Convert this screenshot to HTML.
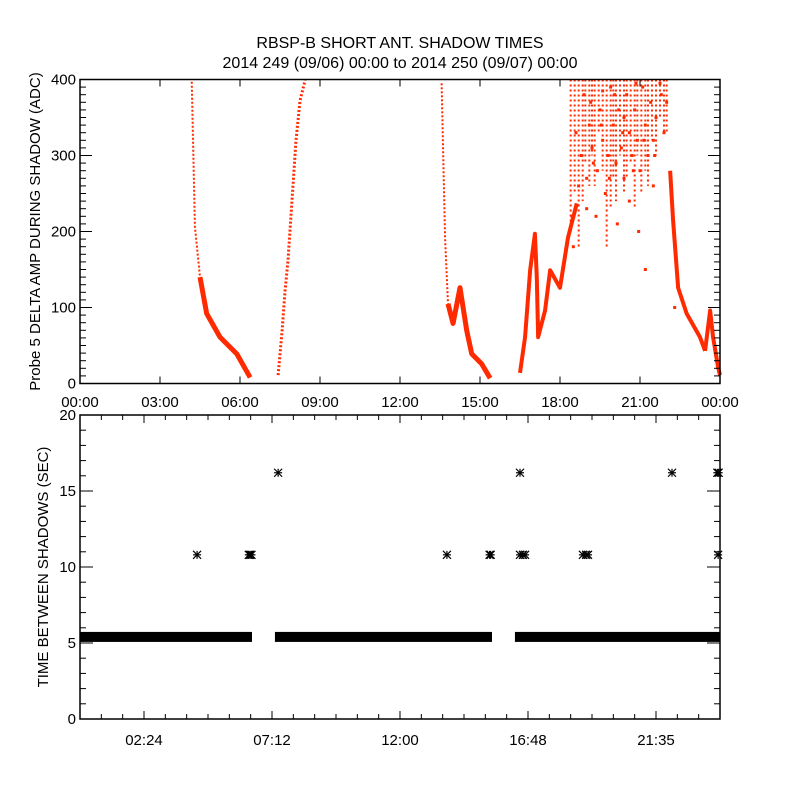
<!DOCTYPE html>
<html><head><meta charset="utf-8"><style>
html,body{margin:0;padding:0;background:#fff;}
svg{display:block;}
text{font-family:"Liberation Sans",sans-serif;fill:#000;}
</style></head><body>
<svg id="chart" width="800" height="800" viewBox="0 0 800 800">
<text x="400" y="48" font-size="16" text-anchor="middle">RBSP-B SHORT ANT. SHADOW TIMES</text>
<text x="400" y="68" font-size="16" text-anchor="middle">2014 249 (09/06) 00:00 to 2014 250 (09/07) 00:00</text>
<g id="topPanel"></g>
<g id="botPanel"></g>
</svg>
<script>
// ---- Top panel data (hours, ADC) ----
const ampThin1 = [[4.19,397],[4.31,206],[4.5,140]];
const ampThick1 = [[4.5,140],[4.75,92],[5.25,61],[5.88,39],[6.38,8]];
const ampRise2 = [[7.43,11],[7.58,70],[7.69,122],[7.8,162],[7.95,241],[8.1,320],[8.25,372],[8.44,399]];
const ampThin3 = [[13.56,395],[13.69,192],[13.8,105]];
const ampThick3 = [[13.8,105],[13.99,79],[14.25,126],[14.5,70],[14.69,39],[15.06,26],[15.38,7]];
const ampRise4 = [[16.5,14],[16.69,61],[16.88,149],[17.06,197],[17.13,139],[17.18,61],[17.44,96],[17.63,149],[18.0,126],[18.3,192],[18.63,237]];
const ampFall5 = [[22.13,280],[22.24,215],[22.43,126],[22.75,92],[23.25,61],[23.44,43]];
const ampTail6 = [[23.44,43],[23.63,96],[23.74,61],[23.93,21],[24.0,11]];
const streakHours = [18.4,18.55,18.7,18.85,18.95,19.1,19.2,19.3,19.45,19.6,19.75,19.9,20.0,20.1,20.25,20.4,20.5,20.65,20.8,20.9,21.05,21.2,21.3,21.45,21.6,21.75,21.9,22.0];
const streakLows = [200,250,180,240,290,260,300,260,330,280,180,230,270,240,300,250,270,290,230,300,250,280,260,320,300,350,330,330];
const cloudDots = [[18.6,330],[18.8,300],[18.9,380],[19.0,270],[19.1,340],[19.2,310],[19.4,280],[19.5,360],[19.6,320],[19.7,250],[19.8,300],[19.9,390],[20.0,340],[20.1,290],[20.2,360],[20.3,310],[20.4,270],[20.5,380],[20.6,330],[20.7,300],[20.8,360],[20.9,320],[21.0,280],[21.1,390],[21.2,340],[21.3,300],[21.4,370],[21.5,320],[21.6,350],[21.8,380],[21.9,330],[22.0,370],[19.35,220],[20.15,210],[20.95,200],[21.2,150],[18.5,180],[20.6,240],[19.0,230],[21.5,260],[20.4,350],[19.6,385],[20.85,395],[21.75,395],[18.45,220],[22.3,100],[18.7,260],[19.25,290],[19.55,340],[19.85,270],[20.35,330],[20.75,280],[21.15,320],[21.55,300],[20.05,380],[19.15,370]];
const ampYTicks = [0,100,200,300,400];
const ampXTickLabels = ["00:00","03:00","06:00","09:00","12:00","15:00","18:00","21:00","00:00"];

// ---- Bottom panel data ----
const bandStart = [0.0,7.31,16.31];
const bandEnd = [6.45,15.45,24.0];
const bandValue = 5.4;
const starHours = [4.39,6.33,6.38,6.43,13.76,15.36,15.4,16.5,16.61,16.69,18.86,18.98,19.05,23.93,7.43,16.5,22.2,23.9,23.95];
const starValues = [10.8,10.8,10.8,10.8,10.8,10.8,10.8,10.8,10.8,10.8,10.8,10.8,10.8,10.8,16.2,16.2,16.2,16.2,16.2];
const intYTicks = [0,5,10,15,20];
const intXTickLabels = ["02:24","07:12","12:00","16:48","21:35"];
const intXTickHours = [2.4,7.2,12.0,16.8,21.6];

const NS="http://www.w3.org/2000/svg";
function mk(tag,attrs,parent){const e=document.createElementNS(NS,tag);for(const k in attrs)e.setAttribute(k,attrs[k]);parent.appendChild(e);return e;}
const L=80,R=720;
const xS=h=>L+h/24*(R-L);
const T1=79.5,B1=383.5; const y1=v=>B1-v/400*(B1-T1);
const T2=415,B2=719; const y2=v=>B2-v/20*(B2-T2);

const topG=document.getElementById('topPanel');
const botG=document.getElementById('botPanel');
const RED="#ff2a00";

function poly(pts,w,name){
  const p=mk('polyline',{points:pts.map(d=>xS(d[0])+','+y1(d[1])).join(' '),fill:'none',stroke:RED,'stroke-width':w,'stroke-linejoin':'round','stroke-dasharray':w>3?'none':'2 2'},topG);
  
  
}
poly(ampThin1,2,'amp-series-thin-1');
poly(ampThick1,5,'amp-series-thick-1');
poly(ampRise2,3,'amp-series-rise-2');
poly(ampThin3,2,'amp-series-thin-3');
poly(ampThick3,5,'amp-series-thick-3');
poly(ampRise4,4,'amp-series-rise-4');
poly(ampFall5,4,'amp-series-fall-5');
poly(ampTail6,4,'amp-series-tail-6');
streakHours.forEach((h,i)=>{
  const l=mk('line',{x1:xS(h),x2:xS(h),y1:y1(400),y2:y1(streakLows[i]),stroke:RED,'stroke-width':2,'stroke-dasharray':'2 3'},topG);
  
  
});
cloudDots.forEach(d=>{
  const r=mk('rect',{x:xS(d[0])-1.5,y:y1(d[1])-1.5,width:3,height:3,fill:RED},topG);
  
  
});

function frame(g,T,B,name){
  const f=mk('rect',{x:L,y:T,width:R-L,height:B-T,fill:'none',stroke:'#000','stroke-width':1.5},g);
  
  
}
frame(topG,T1,B1,'amp-plot-frame');
frame(botG,T2,B2,'interval-plot-frame');

for(let v=0;v<=400;v+=10){
  const len=(v%100===0)?12:6;
  mk('line',{x1:L,x2:L+len,y1:y1(v),y2:y1(v),stroke:'#000'},topG);
  mk('line',{x1:R,x2:R-len,y1:y1(v),y2:y1(v),stroke:'#000'},topG);
}
ampYTicks.forEach(v=>{
  const t=mk('text',{x:L-4,y:y1(v)+5,'font-size':15,'text-anchor':'end'},topG);
  t.textContent=v;
  
  
});
ampXTickLabels.forEach((s,i)=>{
  const x=xS(i*3);
  mk('line',{x1:x,x2:x,y1:B1,y2:B1-7,stroke:'#000'},topG);
  mk('line',{x1:x,x2:x,y1:T1,y2:T1+7,stroke:'#000'},topG);
  const t=mk('text',{x:x,y:407,'font-size':15,'text-anchor':'middle'},topG);
  t.textContent=s;
  
  
});
const yt1=mk('text',{x:0,y:0,'font-size':15,'text-anchor':'middle',transform:`translate(40,${(T1+B1)/2}) rotate(-90)`},topG);
yt1.textContent='Probe 5 DELTA AMP DURING SHADOW (ADC)';



for(let v=0;v<=20;v+=1){
  const len=(v%5===0)?13:6;
  mk('line',{x1:L,x2:L+len,y1:y2(v),y2:y2(v),stroke:'#000'},botG);
  mk('line',{x1:R,x2:R-len,y1:y2(v),y2:y2(v),stroke:'#000'},botG);
}
intYTicks.forEach(v=>{
  const t=mk('text',{x:L-4,y:y2(v)+5,'font-size':15,'text-anchor':'end'},botG);
  t.textContent=v;
  
  
});
for(let h=0;h<=24;h+=0.8){
  const x=xS(h);
  mk('line',{x1:x,x2:x,y1:B2,y2:B2-5,stroke:'#000'},botG);
  mk('line',{x1:x,x2:x,y1:T2,y2:T2+5,stroke:'#000'},botG);
}
intXTickHours.forEach((h,i)=>{
  const x=xS(h);
  mk('line',{x1:x,x2:x,y1:B2,y2:B2-8,stroke:'#000'},botG);
  mk('line',{x1:x,x2:x,y1:T2,y2:T2+8,stroke:'#000'},botG);
  const t=mk('text',{x:x,y:745,'font-size':15,'text-anchor':'middle'},botG);
  t.textContent=intXTickLabels[i];
  
  
});
const yt2=mk('text',{x:0,y:0,'font-size':15,'text-anchor':'middle',transform:`translate(48,${(T2+B2)/2}) rotate(-90)`},botG);
yt2.textContent='TIME BETWEEN SHADOWS (SEC)';



bandStart.forEach((s,i)=>{
  const r=mk('rect',{x:xS(s),y:y2(bandValue)-5,width:xS(bandEnd[i])-xS(s),height:10,fill:'#000'},botG);
  
  
});
function star(x,y){
  const g=mk('g',{stroke:'#000','stroke-width':1.2},botG);
  
  
  const s=4;
  mk('line',{x1:x-s,x2:x+s,y1:y,y2:y},g);
  mk('line',{x1:x,x2:x,y1:y-s,y2:y+s},g);
  mk('line',{x1:x-s,x2:x+s,y1:y-s,y2:y+s},g);
  mk('line',{x1:x-s,x2:x+s,y1:y+s,y2:y-s},g);
}
starHours.forEach((h,i)=>star(xS(h),y2(starValues[i])));
</script>
</body></html>
